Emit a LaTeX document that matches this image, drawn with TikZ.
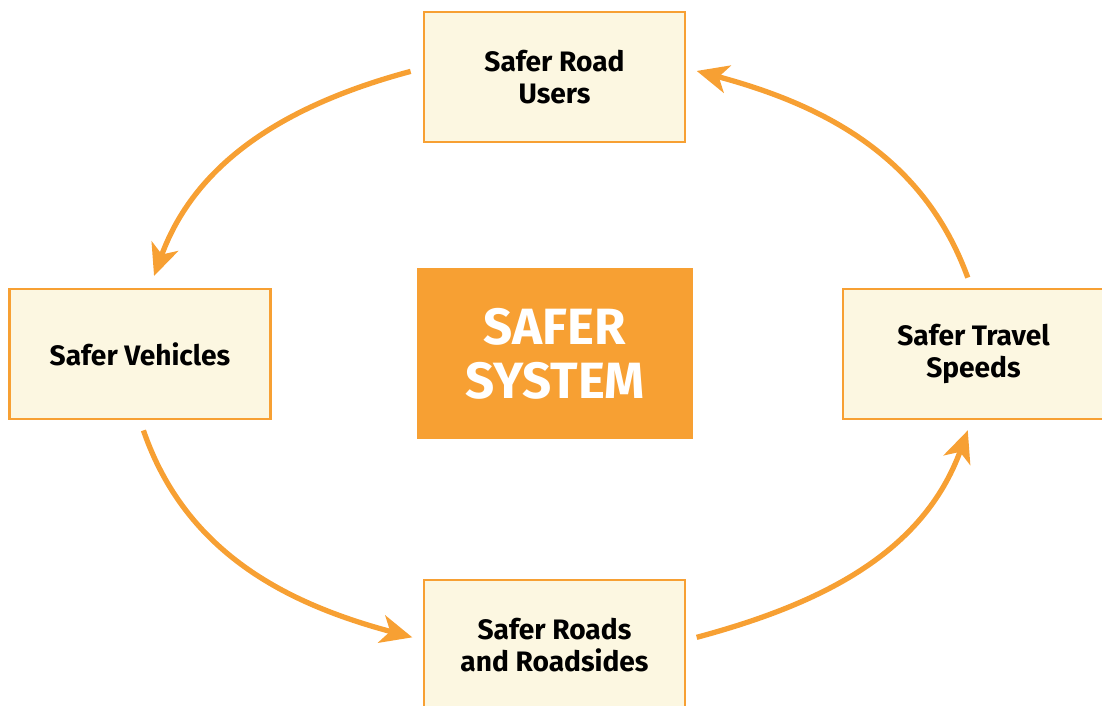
\documentclass[tikz,border=0pt]{standalone}
\usepackage{fontspec}
\setmainfont{Fira Sans}
\usetikzlibrary{arrows.meta}
\definecolor{saferorange}{HTML}{F7A033}
\definecolor{safercream}{HTML}{FCF7E1}
\tikzset{
    pillar/.style={draw=saferorange, line width=0.8pt, fill=safercream,
        minimum width=2.61cm, minimum height=1.30cm, align=center,
        font=\fontsize{8}{9.2}\selectfont\bfseries},
    core/.style={fill=saferorange, text=white, minimum width=2.76cm,
        minimum height=1.71cm, align=center,
        font=\fontsize{14.5}{15.4}\selectfont\bfseries},
    cycle/.style={draw=saferorange, line width=1.5pt,
        -{Stealth[length=9pt, width=8pt, inset=2.5pt]}}
}

\begin{document}
\begin{tikzpicture}[x=0.01cm, y=-0.01cm]
    \clip (0,0) rectangle (1102,706);
    \useasboundingbox (0,0) rectangle (1102,706);
    % Centro
    \node[core] (sys) at (555,353.5) {SAFER\\SYSTEM};
    % Los cuatro pilares
    \node[pillar] (users) at (554.5,77) {Safer Road\\Users};
    \node[pillar] (veh) at (140,354) {Safer Vehicles};
    \node[pillar] (speed) at (973.5,354) {Safer Travel\\Speeds};
    \node[pillar] (roads) at (554.5,645) {Safer Roads\\and Roadsides};
    % Ciclo
    \draw[cycle, shorten <=3.5pt, shorten >=3.5pt]
        ([yshift=2.5pt]users.west) to[out=195, in=70] ([xshift=2.8pt]veh.north);
    \draw[cycle, shorten <=3pt, shorten >=3pt]
        (veh.south) to[out=289, in=165] ([yshift=1.4pt]roads.west);
    \draw[cycle, shorten <=3pt, shorten >=3pt]
        ([yshift=1.4pt]roads.east) to[out=15, in=250] ([xshift=-0.6pt]speed.south);
    \draw[cycle, shorten <=3pt, shorten >=3pt]
        ([xshift=-0.6pt]speed.north) to[out=110, in=345] ([yshift=2.5pt]users.east);
\end{tikzpicture}
\end{document}
